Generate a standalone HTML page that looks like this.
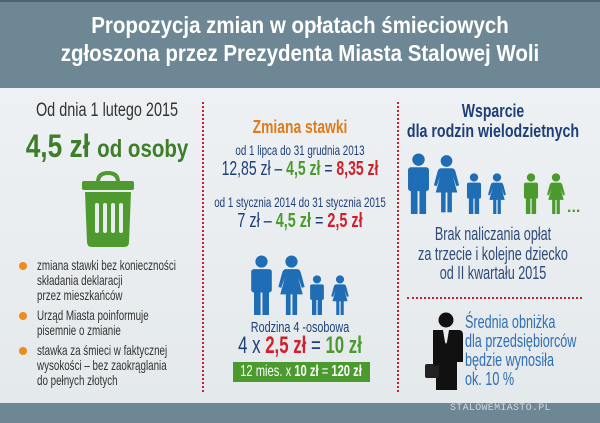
<!DOCTYPE html>
<html><head><meta charset="utf-8"><style>
*{margin:0;padding:0;box-sizing:border-box}
body{width:600px;height:423px;overflow:hidden;position:relative;font-family:"Liberation Sans",sans-serif;background:#e9edf0}
.hdr{position:absolute;left:0;top:0;width:600px;height:88px;background:#6d8795;border-top:2px solid #4d6572}
.bot{position:absolute;left:0;top:403px;width:600px;height:20px;background:#6d8795}
.main{position:absolute;left:0;top:88px;width:600px;height:315px;background:linear-gradient(180deg,#eef1f3,#e4e9ec)}
.t{position:absolute;white-space:nowrap;line-height:1}
.c{transform:translateX(-50%) scaleX(var(--s,.7));transform-origin:center}
.l{transform:scaleX(var(--s,.7));transform-origin:left}
b{font-weight:bold}
.g{color:#4a9a2e}.r{color:#d0202e}.n{color:#1e3f78}
.vd{position:absolute;width:0;border-left:2px dotted #c4202e}
.dot{position:absolute;width:8px;height:8px;border-radius:50%;background:#ef8a1e}
</style></head><body>
<div class="hdr"></div><div class="main"></div><div class="bot"></div>
<div class="t c" style="--s:.89;left:300px;top:14px;font-size:23px;font-weight:bold;color:#fff">Propozycja zmian w opłatach śmieciowych</div>
<div class="t c" style="--s:.89;left:300px;top:42px;font-size:23px;font-weight:bold;color:#fff">zgłoszona przez Prezydenta Miasta Stalowej Woli</div>

<div class="vd" style="left:202px;top:102px;height:290px"></div>
<div class="vd" style="left:397px;top:102px;height:290px"></div>
<div style="position:absolute;left:407px;top:297px;width:175px;border-top:2px dotted #c4202e"></div>

<!-- left -->
<div class="t c" style="--s:.76;left:107px;top:101px;font-size:19px;color:#333">Od dnia 1 lutego 2015</div>
<div class="t c" style="--s:.82;left:107px;top:130px;font-size:32px;font-weight:bold;color:#3e7d2a">4,5 zł <span style="font-size:25px">od osoby</span></div>
<svg style="position:absolute;left:80px;top:170px" width="56" height="78" viewBox="0 0 56 78">
<path d="M18 12 Q18 3 28 3 Q38 3 38 12" fill="none" stroke="#4f9a2f" stroke-width="4"/>
<rect x="2" y="11" width="52" height="9" rx="2" fill="#4f9a2f"/>
<path d="M5 22 H51 L49 72 Q49 77 44 77 H12 Q7 77 7 72 Z" fill="#4f9a2f"/>
<rect x="15" y="33" width="4" height="30" rx="2" fill="#e9edf0"/><rect x="23" y="33" width="4" height="30" rx="2" fill="#e9edf0"/>
<rect x="31" y="33" width="4" height="30" rx="2" fill="#e9edf0"/><rect x="39" y="33" width="4" height="30" rx="2" fill="#e9edf0"/>
</svg>
<div class="dot" style="left:19px;top:262px"></div>
<div class="dot" style="left:19px;top:312px"></div>
<div class="dot" style="left:19px;top:347px"></div>
<div class="t l" style="left:37px;top:258px;font-size:14px;line-height:15px;color:#333">zmiana stawki bez konieczności<br>składania deklaracji<br>przez mieszkańców</div>
<div class="t l" style="left:37px;top:308px;font-size:14px;line-height:15px;color:#333">Urząd Miasta poinformuje<br>pisemnie o zmianie</div>
<div class="t l" style="left:37px;top:343px;font-size:14px;line-height:15px;color:#333">stawka za śmieci w faktycznej<br>wysokości – bez zaokrąglania<br>do pełnych złotych</div>

<svg width="0" height="0" style="position:absolute">
<defs>
<symbol id="man" viewBox="0 0 24 64"><circle cx="12" cy="7" r="6.5"/><rect x="1" y="15" width="22" height="25" rx="3"/><rect x="4" y="36" width="7" height="28"/><rect x="13" y="36" width="7" height="28"/></symbol>
<symbol id="wom" viewBox="0 0 30 64"><circle cx="15" cy="7" r="6.5"/><path d="M9 15 H21 Q24 15 25 19 L29 34 L26 35 L22 24 L27 42 H3 L8 24 L4 35 L1 34 L5 19 Q6 15 9 15Z"/><rect x="9" y="40" width="5" height="24"/><rect x="16" y="40" width="5" height="24"/></symbol>
</defs></svg>

<!-- middle -->
<div class="t c" style="--s:.77;left:300px;top:118px;font-size:18px;font-weight:bold;color:#e07b1a">Zmiana stawki</div>
<div class="t c" style="left:300px;top:143px;font-size:14px;color:#1e3f78">od 1 lipca do 31 grudnia 2013</div>
<div class="t c n" style="left:300px;top:159px;font-size:20px">12,85 zł – <b class="g">4,5 zł</b> = <b class="r">8,35 zł</b></div>
<div class="t c" style="left:300px;top:195px;font-size:14px;color:#1e3f78">od 1 stycznia 2014 do 31 stycznia 2015</div>
<div class="t c n" style="--s:.72;left:300px;top:211px;font-size:20px">7 zł – <b class="g">4,5 zł</b> = <b class="r">2,5 zł</b></div>
<svg style="position:absolute;left:250px;top:255px" width="23" height="60" fill="#1f6db5"><use href="#man"/></svg>
<svg style="position:absolute;left:277px;top:255px" width="29" height="60" fill="#1f6db5"><use href="#wom"/></svg>
<svg style="position:absolute;left:309px;top:275px" width="16" height="40" fill="#1f6db5"><use href="#man"/></svg>
<svg style="position:absolute;left:330px;top:275px" width="20" height="40" fill="#1f6db5"><use href="#wom"/></svg>
<div class="t c" style="--s:.72;left:300px;top:320px;font-size:15px;color:#1e3f78">Rodzina 4 -osobowa</div>
<div class="t c n" style="left:300px;top:334px;font-size:24px">4 x <b class="r">2,5 zł</b> = <b class="g">10 zł</b></div>
<div style="position:absolute;left:233px;top:362px;width:137px;height:20px;background:#4a9a2e"></div>
<div class="t c" style="left:301px;top:364px;font-size:16px;color:#fff">12 mies. x <b>10 zł</b> = <b>120 zł</b></div>

<!-- right -->
<div class="t c" style="--s:.78;left:493px;top:102px;font-size:18px;font-weight:bold;color:#1e3f78">Wsparcie</div>
<div class="t c" style="--s:.79;left:493px;top:122px;font-size:18px;font-weight:bold;color:#1e3f78">dla rodzin wielodzietnych</div>
<svg style="position:absolute;left:407px;top:153px" width="23" height="61" fill="#1f6db5"><use href="#man"/></svg>
<svg style="position:absolute;left:433px;top:153px" width="27" height="61" fill="#1f6db5"><use href="#wom"/></svg>
<svg style="position:absolute;left:466px;top:173px" width="16" height="41" fill="#1f6db5"><use href="#man"/></svg>
<svg style="position:absolute;left:487px;top:173px" width="20" height="41" fill="#1f6db5"><use href="#wom"/></svg>
<svg style="position:absolute;left:523px;top:173px" width="16" height="41" fill="#4a9a2e"><use href="#man"/></svg>
<svg style="position:absolute;left:546px;top:173px" width="20" height="41" fill="#4a9a2e"><use href="#wom"/></svg>
<div class="t" style="left:567px;top:200px;font-size:16px;font-weight:bold;color:#4a9a2e">...</div>
<div class="t c" style="left:493px;top:225px;font-size:18px;line-height:19.5px;color:#2d4a7a;text-align:center">Brak naliczania opłat<br>za trzecie i kolejne dziecko<br>od II kwartału 2015</div>
<svg style="position:absolute;left:424px;top:312px" width="40" height="78" viewBox="0 0 40 78">
<circle cx="22" cy="8" r="7.5" fill="#111"/>
<path d="M9 18 H35 Q39 18 39 23 V50 H33 V78 H12 V58 H9Z" fill="#111"/>
<path d="M19 18 H25 L23 30 L22 32 L21 30Z" fill="#e9edf0"/>
<rect x="1" y="52" width="14" height="14" rx="2" fill="#222"/>
<rect x="10" y="50" width="4" height="4" fill="#111"/>
</svg>
<div class="t l" style="left:465px;top:313px;font-size:18px;line-height:19px;color:#2f6fb5">Średnia obniżka<br>dla przedsiębiorców<br>będzie wynosiła<br>ok. 10 %</div>

<div class="t" style="left:450px;top:404px;font-size:10px;letter-spacing:0.3px;color:#cfd8dd;font-family:'Liberation Mono',monospace">STALOWEMIASTO.PL</div>
</body></html>
